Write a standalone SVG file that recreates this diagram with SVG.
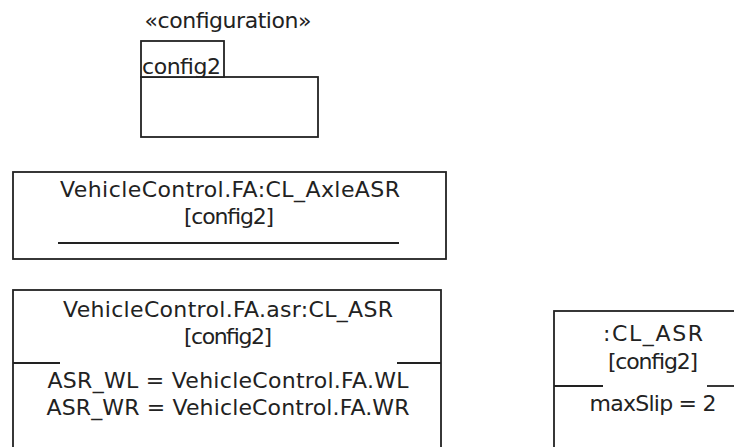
<svg xmlns="http://www.w3.org/2000/svg" width="734" height="447" viewBox="0 0 734 447">
<defs>
<style>
.b{fill:#fff;stroke:#222;stroke-width:1.8}
.l{stroke:#222;stroke-width:1.8;fill:none}
text{font-family:"DejaVu Sans",Verdana,sans-serif;font-size:22px;fill:#222}
.c{text-anchor:middle}
</style>
<clipPath id="tabclip"><rect x="141" y="41" width="83" height="36"/></clipPath>
</defs>
<rect width="734" height="447" fill="#fff"/>
<g id="config2">
<text class="c" x="228" y="28" textLength="167">«configuration»</text>
<rect class="b" x="141" y="77" width="177" height="60"/>
<rect class="b" x="141" y="41" width="83" height="36"/>
<text x="142" y="74" textLength="79" clip-path="url(#tabclip)">config2</text>
</g>
<g id="axleasr">
<rect class="b" x="13" y="172" width="433" height="87"/>
<text class="c" x="230" y="197" textLength="340">VehicleControl.FA:CL_AxleASR</text>
<text class="c" x="229" y="224" textLength="90">[config2]</text>
<line class="l" x1="58" y1="243" x2="399" y2="243"/>
</g>
<g id="asr">
<rect class="b" x="13" y="290" width="428" height="170"/>
<text class="c" x="228" y="317" textLength="330">VehicleControl.FA.asr:CL_ASR</text>
<text class="c" x="228" y="344" textLength="88">[config2]</text>
<line class="l" x1="13" y1="363" x2="60" y2="363"/>
<line class="l" x1="397" y1="363" x2="441" y2="363"/>
<text class="c" x="228" y="388" textLength="361">ASR_WL = VehicleControl.FA.WL</text>
<text class="c" x="228" y="415" textLength="363">ASR_WR = VehicleControl.FA.WR</text>
</g>
<g id="cl_asr">
<rect class="b" x="554" y="311" width="200" height="150"/>
<text class="c" x="653" y="341" textLength="100">:CL_ASR</text>
<text class="c" x="653" y="369" textLength="90">[config2]</text>
<line class="l" x1="554" y1="386" x2="603" y2="386"/>
<line class="l" x1="707" y1="386" x2="734" y2="386"/>
<text class="c" x="653" y="411" textLength="127">maxSlip = 2</text>
</g>
<g id="connectors"/>
</svg>
